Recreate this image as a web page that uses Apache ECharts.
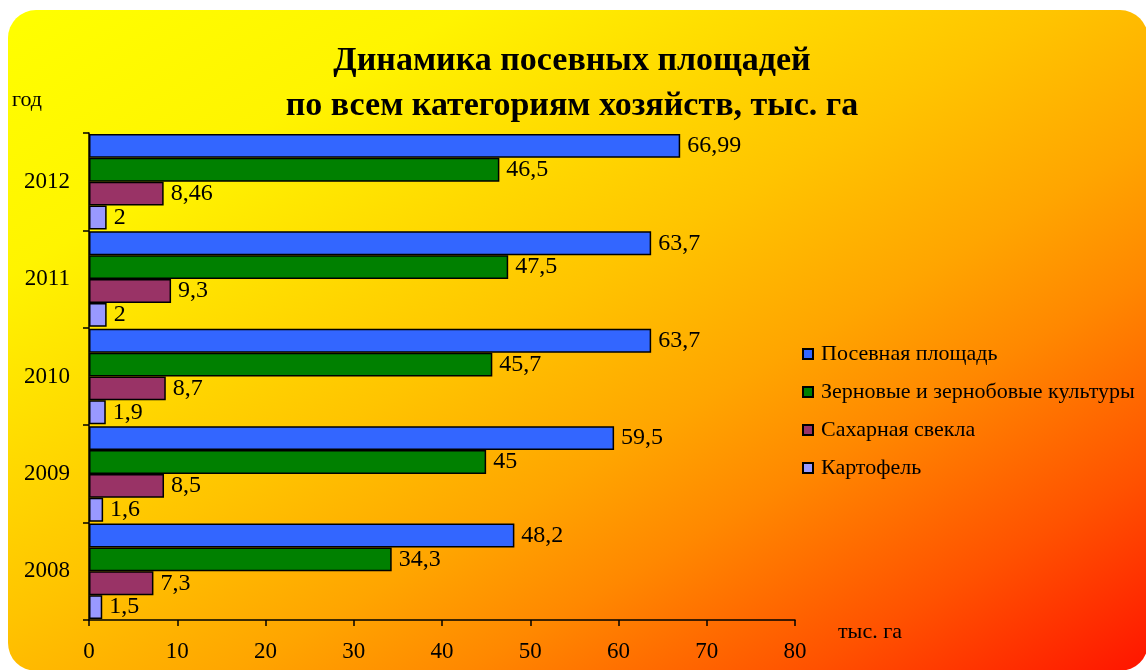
<!DOCTYPE html>
<html>
<head>
<meta charset="utf-8">
<script src="https://cdn.jsdelivr.net/npm/echarts@6/dist/echarts.min.js"></script>
<style>
    html, body { margin: 0; padding: 0; background: #fff; overflow: hidden; }
    #bg {
        position: absolute; left: 8px; top: 10px; width: 1140px; height: 661px;
        border-radius: 28px;
        background: linear-gradient(to bottom right, #ffff00 0%, #fff400 20%, #ffc400 46%, #ffa500 60%, #ff8800 70%, #ff5200 85%, #ff1400 100%);
    }
    #chart { position: absolute; left: 0; top: 0; width: 1146px; height: 670px; }
</style>
</head>
<body>
<div id="bg"></div>
<div id="chart"></div>
<script>
// Динамика посевных площадей
var years = ['2008', '2009', '2010', '2011', '2012'];
var seriesNames = ['Посевная площадь', 'Зерновые и зернобовые культуры', 'Сахарная свекла', 'Картофель'];
var sownArea = [48.2, 59.5, 63.7, 63.7, 66.99];
var grain = [34.3, 45, 45.7, 47.5, 46.5];
var sugarBeet = [7.3, 8.5, 8.7, 9.3, 8.46];
var potato = [1.5, 1.6, 1.9, 2, 2];
var xTicks = [0, 10, 20, 30, 40, 50, 60, 70, 80];

var colors = ['#3366ff', '#008000', '#993366', '#9999ff'];
var serif = '"Liberation Serif", "Times New Roman", serif';

function makeSeries(name, data, color){
    return {
        name: name,
        type: 'bar',
        data: data,
        barGap: 0,
        barCategoryGap: '2%',
        itemStyle: {
            color: color,
            borderColor: '#000',
            borderWidth: 1.5
        },
        label: {
            show: true,
            position: 'right',
            distance: 7,
            color: '#000',
            fontFamily: serif,
            fontSize: 24,
            formatter: function(p){
                return String(p.value).replace('.', ',');
            }
        }
    };
}

var chartInstance = echarts.init(document.getElementById('chart'));
var option = {
    backgroundColor: 'transparent',
    animation: false,
    title: {
        text: 'Динамика посевных площадей\nпо всем категориям хозяйств, тыс. га',
        left: 567,
        top: 34,
        textAlign: 'center',
        textStyle: {
            fontFamily: serif,
            fontWeight: 'bold',
            fontSize: 34,
            lineHeight: 45,
            color: '#000'
        }
    },
    legend: {
        data: seriesNames,
        orient: 'vertical',
        left: 797,
        top: 338,
        itemWidth: 10,
        itemHeight: 10,
        itemGap: 16,
        icon: 'rect',
        textStyle: {
            fontFamily: serif,
            fontSize: 22,
            color: '#000',
            padding: [0, 0, 0, 3]
        }
    },
    grid: {
        left: 89,
        right: 351,
        top: 133,
        bottom: 50
    },
    xAxis: {
        type: 'value',
        min: xTicks[0],
        max: xTicks[xTicks.length - 1],
        interval: 10,
        axisLine: { show: true, lineStyle: { color: '#000', width: 1.5 } },
        axisTick: { show: true, length: 6, lineStyle: { color: '#000', width: 1.5 } },
        axisLabel: {
            margin: 20,
            color: '#000',
            fontFamily: serif,
            fontSize: 23
        },
        splitLine: { show: false }
    },
    yAxis: {
        type: 'category',
        data: years,
        axisLine: { show: true, lineStyle: { color: '#000', width: 1.5 } },
        axisTick: { show: true, length: 6, lineStyle: { color: '#000', width: 1.5 } },
        axisLabel: {
            margin: 19,
            color: '#000',
            fontFamily: serif,
            fontSize: 23
        }
    },
    graphic: [{
        type: 'text',
        left: 12,
        top: 89,
        style: { text: 'год', fontFamily: serif, fontSize: 22, fill: '#000' }
    }, {
        type: 'text',
        left: 838,
        top: 621,
        style: { text: 'тыс. га', fontFamily: serif, fontSize: 22, fill: '#000' }
    }],
    series: [
        makeSeries(seriesNames[0], sownArea, colors[0]),
        makeSeries(seriesNames[1], grain, colors[1]),
        makeSeries(seriesNames[2], sugarBeet, colors[2]),
        makeSeries(seriesNames[3], potato, colors[3])
    ]
};
chartInstance.setOption(option, true);
</script>
</body>
</html>
